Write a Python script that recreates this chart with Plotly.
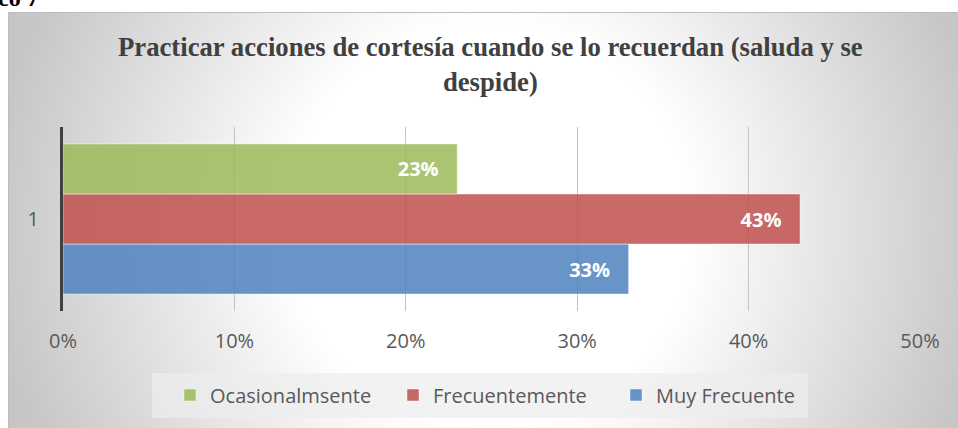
import base64
import plotly.graph_objects as go

# ---- data ----
category = ["1"]
series_names = ["Muy Frecuente", "Frecuentemente", "Ocasionalmsente"]
series_values = [[0.33], [0.43], [0.23]]
series_colors = ["rgba(79,129,189,0.85)", "rgba(192,80,77,0.85)", "rgba(155,187,89,0.85)"]
x_ticks = [0, 0.1, 0.2, 0.3, 0.4, 0.5]
title_text = "Practicar acciones de cortesía cuando se lo recuerdan (saluda y se<br>despide)"
caption_text = "Gráfico 7"

# ---- layout geometry (pixels) ----
W, H = 958, 428
L, R, T, B = 63, 38, 127, 117
PW, PH = W - L - R, H - T - B


def px(x):
    return (x - L) / PW


def py(y):
    return (H - B - y) / PH


# radial gradient background (chart frame)
svg = f'''<svg xmlns="http://www.w3.org/2000/svg" width="950" height="430" viewBox="0 0 950 430" preserveAspectRatio="none">
<defs><radialGradient id="g" gradientUnits="userSpaceOnUse" cx="482" cy="214" r="500">
<stop offset="0" stop-color="#ffffff"/><stop offset="0.4" stop-color="#ffffff"/>
<stop offset="1" stop-color="#c6c6c6"/></radialGradient></defs>
<rect x="0" y="0" width="950" height="430" fill="url(#g)"/>
<path d="M0.5,430 V0.5 H950" fill="none" stroke="#bdbdbd" stroke-width="1"/>
</svg>'''
svg_uri = "data:image/svg+xml;base64," + base64.b64encode(svg.encode()).decode()

fig = go.Figure()
for name, vals, col in zip(series_names, series_values, series_colors):
    fig.add_trace(go.Bar(
        name=name, y=category, x=vals, orientation="h",
        marker=dict(color=col, line=dict(color="rgba(255,255,255,0.45)", width=1)),
        texttemplate="<b>%{x:.0%}</b>\u00a0\u00a0\u00a0",
        textposition="inside", insidetextanchor="end",
        textfont=dict(family="Open Sans", size=20, color="white"),
        hoverinfo="skip",
    ))

fig.update_layout(
    width=W, height=H,
    margin=dict(l=L, r=R, t=T, b=B, autoexpand=False),
    paper_bgcolor="white", plot_bgcolor="rgba(0,0,0,0)",
    barmode="group", bargap=0.184, bargroupgap=0,
    xaxis=dict(range=[0, 0.5], tickvals=x_ticks, tickformat=".0%",
               showgrid=True, gridcolor="#c3c3c3", gridwidth=1, zeroline=False,
               showline=False, ticks="", ticklabelstandoff=16,
               tickfont=dict(family="Open Sans", size=20, color="#595959"), fixedrange=True),
    yaxis=dict(type="category", showgrid=False, zeroline=False,
               showline=True, linecolor="#404040", linewidth=3, ticks="",
               ticklabelstandoff=17,
               tickfont=dict(family="Open Sans", size=20, color="#595959"), fixedrange=True),
    legend=dict(orientation="h", traceorder="reversed", bgcolor="rgba(0,0,0,0)",
                x=px(170), xanchor="left", y=py(395), yanchor="middle",
                entrywidth=178, entrywidthmode="pixels",
                font=dict(family="Open Sans", size=20, color="#595959")),
    images=[dict(source=svg_uri, xref="paper", yref="paper", x=px(8), y=py(12),
                 sizex=950 / PW, sizey=430 / PH, xanchor="left", yanchor="top",
                 sizing="stretch", layer="below")],
    shapes=[dict(type="rect", xref="paper", yref="paper", x0=px(152), x1=px(808),
                 y0=py(418), y1=py(373), fillcolor="rgba(237,237,237,0.72)",
                 line=dict(width=0), layer="below")],
    annotations=[
        dict(text=title_text, xref="paper", yref="paper", x=px(490), y=py(31),
             xanchor="center", yanchor="top", showarrow=False, borderpad=0,
             font=dict(family="Liberation Serif", size=26.7, color="#404040", weight="bold")),
        dict(text=caption_text, xref="paper", yref="paper", x=px(41), y=py(13),
             xanchor="right", yanchor="bottom", showarrow=False,
             font=dict(family="Liberation Serif", size=24, color="black", weight="bold")),
    ],
)

fig.write_html("out.html", config={"displayModeBar": False},
               post_script="document.body.style.margin='0';document.body.style.overflow='hidden';")
